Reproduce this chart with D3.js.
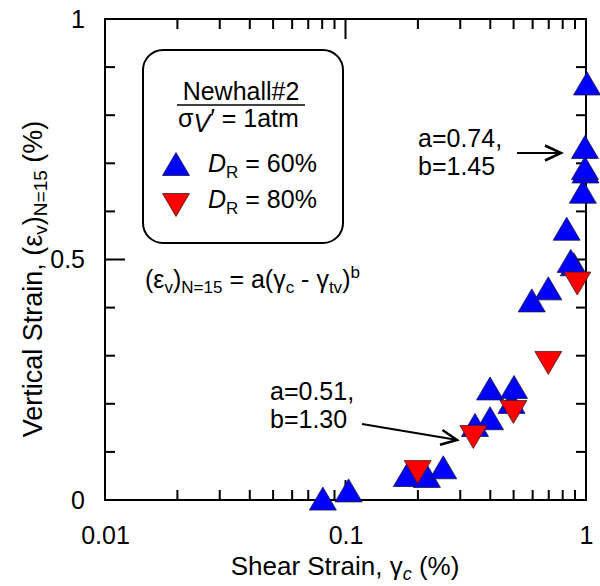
<!DOCTYPE html>
<html>
<head>
<meta charset="utf-8">
<script src="https://cdn.jsdelivr.net/npm/d3@7"></script>
<style>
  body { margin: 0; background: #fff; }
  svg text { font-family: "Liberation Sans", Arial, sans-serif; fill: #000; }
</style>
</head>
<body>
<div id="chart"></div>
<script>
// shear strain (%) / vertical strain (%)
const dr60 = [
  [0.0805, 0.003], [0.103, 0.02], [0.18, 0.052], [0.218, 0.05], [0.255, 0.068],
  [0.3455, 0.156], [0.399, 0.17], [0.399, 0.232], [0.49, 0.204], [0.502, 0.235],
  [0.595, 0.415], [0.697, 0.44], [0.831, 0.564], [0.89, 0.49], [0.864, 0.497],
  [0.97, 0.641], [0.995, 0.683], [0.99, 0.69], [0.99, 0.734], [1.01, 0.866]
];
const dr80 = [
  [0.1996, 0.058], [0.34, 0.131], [0.499, 0.183], [0.697, 0.285], [0.92, 0.45]
];
const xMajor = [0.01, 0.1, 1];
const xMinor = [0.02, 0.03, 0.04, 0.05, 0.06, 0.07, 0.08, 0.09,
                0.2, 0.3, 0.4, 0.5, 0.6, 0.7, 0.8, 0.9];
const yMajor = [0, 0.5, 1];
const yMinor = [0.1, 0.2, 0.3, 0.4, 0.6, 0.7, 0.8, 0.9];

const width = 600, height = 586;
const margin = { top: 19, right: 14, bottom: 86, left: 105 };

const svg = d3.select('#chart').append('svg')
  .attr('width', width)
  .attr('height', height);

const x = d3.scaleLog()
  .domain([0.01, 1])
  .range([margin.left, width - margin.right]);

const y = d3.scaleLinear()
  .domain([0, 1])
  .range([height - margin.bottom, margin.top]);

const x0 = x.range()[0], x1 = x.range()[1];
const y0 = y.range()[0], y1 = y.range()[1];

// tick labels via d3 axes (no tick lines)
svg.append('g').attr('transform', `translate(0,${y0})`)
  .call(d3.axisBottom(x).tickValues(xMajor).tickFormat(d3.format('')).tickSize(0).tickPadding(26))
  .call(g => g.select('.domain').remove())
  .call(g => g.selectAll('text').attr('font-size', 25));
svg.append('g').attr('transform', `translate(${x0},0)`)
  .call(d3.axisLeft(y).tickValues(yMajor).tickFormat(d3.format('')).tickSize(0).tickPadding(20))
  .call(g => g.select('.domain').remove())
  .call(g => g.selectAll('text').attr('font-size', 25));

// inward ticks on all four sides
const ticks = svg.append('g').attr('stroke', '#000').attr('stroke-width', 2);
const xt = xMajor.map(v => [v, 20]).concat(xMinor.map(v => [v, 10]));
const yt = yMajor.map(v => [v, 20]).concat(yMinor.map(v => [v, 10]));
ticks.selectAll('.xb').data(xt).enter().append('line')
  .attr('x1', d => x(d[0])).attr('x2', d => x(d[0]))
  .attr('y1', y0).attr('y2', d => y0 - d[1]);
ticks.selectAll('.xt').data(xt).enter().append('line')
  .attr('x1', d => x(d[0])).attr('x2', d => x(d[0]))
  .attr('y1', y1).attr('y2', d => y1 + d[1]);
ticks.selectAll('.yl').data(yt).enter().append('line')
  .attr('y1', d => y(d[0])).attr('y2', d => y(d[0]))
  .attr('x1', x0).attr('x2', d => x0 + d[1]);
ticks.selectAll('.yr').data(yt).enter().append('line')
  .attr('y1', d => y(d[0])).attr('y2', d => y(d[0]))
  .attr('x1', x1).attr('x2', d => x1 - d[1]);

svg.append('rect')
  .attr('x', x0).attr('y', y1).attr('width', x1 - x0).attr('height', y0 - y1)
  .attr('fill', 'none').attr('stroke', '#000').attr('stroke-width', 2);

// triangle centred on its bounding box
const side = 27, th = 23;
function tri(cx, cy, up) {
  const s = up ? 1 : -1;
  return `M${cx},${cy - s * th / 2}L${cx + side / 2},${cy + s * th / 2}L${cx - side / 2},${cy + s * th / 2}Z`;
}

svg.append('g').selectAll('path')
  .data(dr60).enter().append('path')
  .attr('d', d => tri(x(d[0]), y(d[1]), true))
  .attr('fill', '#0000ff').attr('stroke', '#1a1a40').attr('stroke-width', 0.8);

svg.append('g').selectAll('path')
  .data(dr80).enter().append('path')
  .attr('d', d => tri(x(d[0]), y(d[1]), false))
  .attr('fill', '#ff0000').attr('stroke', '#402020').attr('stroke-width', 0.8);

// legend box
const lg = svg.append('g');
lg.append('rect').attr('x', 143).attr('y', 50).attr('width', 200).attr('height', 193)
  .attr('rx', 20).attr('fill', '#fff').attr('stroke', '#000').attr('stroke-width', 2);
lg.append('text').attr('x', 241).attr('y', 100).attr('text-anchor', 'middle')
  .attr('font-size', 25).text('Newhall#2');
lg.append('line').attr('x1', 177).attr('x2', 305).attr('y1', 105).attr('y2', 105)
  .attr('stroke', '#000').attr('stroke-width', 1.5);
const sig = lg.append('text').attr('x', 178).attr('y', 127).attr('font-size', 25);
sig.append('tspan').text('σ');
sig.append('tspan').attr('font-style', 'italic').attr('dy', 5).text('V');
sig.append('tspan').attr('dy', -5).text('′ = 1atm');

lg.append('path').attr('d', tri(176, 164, true))
  .attr('fill', '#0000ff').attr('stroke', '#1a1a40').attr('stroke-width', 0.8);
lg.append('path').attr('d', tri(176, 205, false))
  .attr('fill', '#ff0000').attr('stroke', '#402020').attr('stroke-width', 0.8);

[['60%', 172], ['80%', 208]].forEach(([v, by]) => {
  const t = lg.append('text').attr('x', 208).attr('y', by).attr('font-size', 25);
  t.append('tspan').attr('font-style', 'italic').text('D');
  t.append('tspan').attr('font-size', 17).attr('dy', 6).text('R');
  t.append('tspan').attr('dy', -6).text(' = ' + v);
});

// formula
const f = svg.append('text').attr('x', 145).attr('y', 288).attr('font-size', 25);
f.append('tspan').text('(ε');
f.append('tspan').attr('font-size', 17).attr('dy', 5).text('v');
f.append('tspan').attr('dy', -5).text(')');
f.append('tspan').attr('font-size', 17).attr('dy', 5).text('N=15');
f.append('tspan').attr('dy', -5).text(' = a(γ');
f.append('tspan').attr('font-size', 17).attr('dy', 5).text('c');
f.append('tspan').attr('dy', -5).text(' - γ');
f.append('tspan').attr('font-size', 17).attr('dy', 5).text('tv');
f.append('tspan').attr('dy', -5).text(')');
f.append('tspan').attr('font-size', 17).attr('dy', -10).text('b');

// annotations
function note(tx, ty, lines) {
  lines.forEach((s, i) => {
    svg.append('text').attr('x', tx).attr('y', ty + i * 28).attr('font-size', 25).text(s);
  });
}
note(418, 147, ['a=0.74,', 'b=1.45']);
note(270, 400, ['a=0.51,', 'b=1.30']);

function arrow(xa, ya, xb, yb) {
  const dx = xb - xa, dy = yb - ya, L = Math.hypot(dx, dy);
  const ux = dx / L, uy = dy / L, px = -uy, py = ux;
  svg.append('line').attr('x1', xa).attr('y1', ya).attr('x2', xb - ux).attr('y2', yb - uy)
    .attr('stroke', '#000').attr('stroke-width', 2);
  svg.append('path')
    .attr('d', `M${xb - 16 * ux + 7.5 * px},${yb - 16 * uy + 7.5 * py}L${xb},${yb}L${xb - 16 * ux - 7.5 * px},${yb - 16 * uy - 7.5 * py}`)
    .attr('fill', 'none').attr('stroke', '#000').attr('stroke-width', 2.5);
}
arrow(517, 153, 561, 153);
arrow(362, 424, 457, 440);

// axis titles
const xTitle = svg.append('text').attr('x', 345).attr('y', 575).attr('text-anchor', 'middle').attr('font-size', 26);
xTitle.append('tspan').text('Shear Strain, γ');
xTitle.append('tspan').attr('font-size', 18).attr('font-style', 'italic').attr('dy', 5).text('c');
xTitle.append('tspan').attr('dy', -5).text(' (%)');

const yTitle = svg.append('text').attr('transform', 'translate(42,279) rotate(-90)')
  .attr('text-anchor', 'middle').attr('font-size', 27);
yTitle.append('tspan').text('Vertical Strain, (ε');
yTitle.append('tspan').attr('font-size', 19).attr('dy', 5).text('v');
yTitle.append('tspan').attr('dy', -5).text(')');
yTitle.append('tspan').attr('font-size', 19).attr('dy', 5).text('N=15');
yTitle.append('tspan').attr('dy', -5).text(' (%)');
</script>
</body>
</html>
